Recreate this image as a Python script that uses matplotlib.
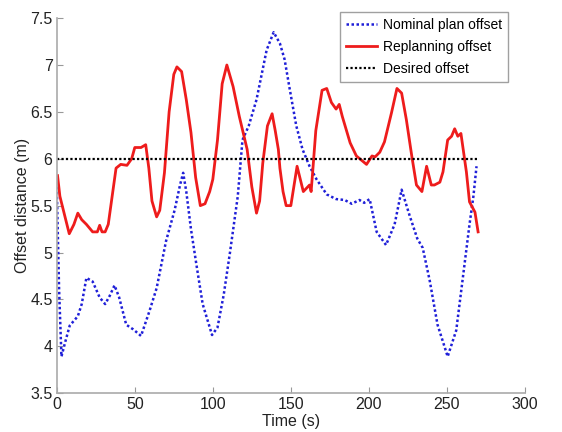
import matplotlib.pyplot as plt

plt.rcParams['font.family'] = ['Liberation Sans', 'DejaVu Sans']

# nominal plan offset (blue dotted)
t_nom = [0, 1.5, 3, 5.5, 8.3, 13.5, 16, 19, 23, 27.5, 31, 34, 37, 40, 44.5, 49, 54,
         59.5, 64, 70, 75.5, 79, 81, 83, 86, 89.5, 93.5, 99.5, 103, 107, 111, 116,
         119, 123, 128, 134.5, 139, 143, 146, 149, 153.5, 157.5, 162, 166.5, 173,
         179, 184.5, 189, 194, 197, 200.5, 205, 211, 216.5, 221, 226, 231, 234.5,
         239, 244, 250.5, 256, 260, 264.5, 267, 269]
v_nom = [5.7, 4.6, 3.89, 4.05, 4.22, 4.32, 4.45, 4.73, 4.69, 4.52, 4.45, 4.54, 4.65,
         4.52, 4.23, 4.18, 4.11, 4.38, 4.62, 5.12, 5.45, 5.72, 5.85, 5.65, 5.25, 4.87,
         4.45, 4.12, 4.2, 4.55, 5.0, 5.6, 6.2, 6.35, 6.63, 7.16, 7.35, 7.23, 7.06,
         6.77, 6.35, 6.1, 5.92, 5.78, 5.62, 5.57, 5.56, 5.52, 5.56, 5.53, 5.57, 5.22,
         5.08, 5.3, 5.67, 5.4, 5.15, 5.05, 4.7, 4.23, 3.89, 4.17, 4.7, 5.3, 5.6, 5.92]

# replanning offset (red)
t_rep = [0.5, 2, 5, 8, 11, 13.5, 16, 19, 23, 26, 27.5, 29, 31, 33, 35.5, 38, 41, 45,
         48, 50, 54, 57, 59, 61, 64, 66, 69, 72, 75, 77, 80, 83, 86, 89, 92, 95, 98,
         100, 103, 106, 109, 113, 117, 122, 125, 128, 130, 132, 135, 138, 140, 142,
         143, 145, 147, 150, 154, 158, 162, 163, 164, 166, 170, 173, 176, 179, 181,
         183, 188, 192, 198.5, 202, 204, 207, 210, 214.5, 218, 221, 224, 227.5,
         230.5, 234, 237, 240, 242, 245.5, 247.5, 250.5, 253, 255, 257, 259, 262.5,
         264.5, 268, 270]
v_rep = [5.82, 5.6, 5.4, 5.2, 5.3, 5.42, 5.35, 5.3, 5.22, 5.22, 5.29, 5.22, 5.22,
         5.3, 5.6, 5.9, 5.94, 5.93, 6.0, 6.12, 6.12, 6.15, 5.9, 5.55, 5.38, 5.45,
         5.85, 6.5, 6.9, 6.98, 6.93, 6.63, 6.28, 5.8, 5.5, 5.52, 5.65, 5.78, 6.2,
         6.8, 7.0, 6.77, 6.45, 6.1, 5.7, 5.42, 5.55, 5.95, 6.35, 6.48, 6.3, 6.1,
         5.9, 5.65, 5.5, 5.5, 5.92, 5.65, 5.72, 5.65, 5.86, 6.3, 6.73, 6.75, 6.6,
         6.53, 6.58, 6.45, 6.17, 6.03, 5.94, 6.03, 6.02, 6.07, 6.18, 6.49, 6.75,
         6.7, 6.42, 6.03, 5.72, 5.65, 5.92, 5.72, 5.72, 5.75, 5.86, 6.2, 6.24, 6.32,
         6.24, 6.27, 5.86, 5.54, 5.43, 5.22]

# desired offset (black dotted)
t_des = [0, 270]
v_des = [6, 6]

fig = plt.figure(figsize=(5.62, 4.32), dpi=100)
ax = fig.add_axes([0.101, 0.09, 0.833, 0.868])

ax.plot(t_nom, v_nom, color='#1f1fd8', linestyle=(0, (1, 1)), linewidth=1.8,
        label='Nominal plan offset')
ax.plot(t_rep, v_rep, color='#ee1c1c', linewidth=2.0, label='Replanning offset')
ax.plot(t_des, v_des, color='black', linestyle=(0, (1, 1)), linewidth=1.6,
        label='Desired offset')

ax.set_xlim(0, 300)
ax.set_ylim(3.5, 7.5)
ax.set_xticks([0, 50, 100, 150, 200, 250, 300])
ax.set_yticks([3.5, 4, 4.5, 5, 5.5, 6, 6.5, 7, 7.5])
ax.set_yticklabels(['3.5', '4', '4.5', '5', '5.5', '6', '6.5', '7', '7.5'])
ax.tick_params(direction='in', length=4, color='#999999', labelsize=11.5,
               labelcolor='#222222', pad=3)
for s in ['top', 'right']:
    ax.spines[s].set_visible(False)
for s in ['left', 'bottom']:
    ax.spines[s].set_color('#aaaaaa')
    ax.spines[s].set_linewidth(1.2)

ax.set_xlabel('Time (s)', fontsize=11.5, color='#222222', labelpad=1.5)
ax.set_ylabel('Offset distance (m)', fontsize=11.5, color='#222222', labelpad=0)

leg = ax.legend(loc='upper right', bbox_to_anchor=(0.979, 1.035), fontsize=10,
                frameon=True, fancybox=False, edgecolor='#888888',
                handlelength=2.2, borderpad=0.4, labelspacing=0.6,
                handletextpad=0.5)
leg.get_frame().set_linewidth(1.0)

plt.savefig('out.png', dpi=100)
